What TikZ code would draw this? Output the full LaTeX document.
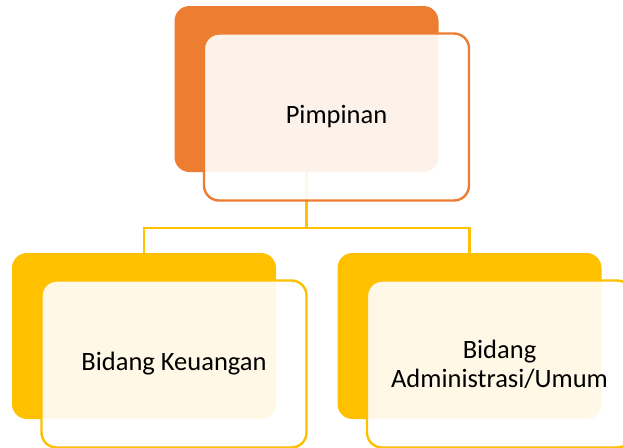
\documentclass[tikz,border=0pt]{standalone}
\usepackage{fontspec}
\setmainfont{Carlito}
\definecolor{borange}{HTML}{ED7D31}
\definecolor{byellow}{HTML}{FFC000}
\begin{document}
\begin{tikzpicture}[x=1pt,y=-1pt,
  backbox/.style={rectangle, rounded corners=15pt, inner sep=0pt, outer sep=0pt,
    minimum width=264pt, minimum height=166pt},
  frontbox/.style={rectangle, rounded corners=15pt, inner sep=0pt, outer sep=0pt,
    minimum width=265pt, minimum height=167pt, line width=2.4pt,
    fill=white, fill opacity=0.9, text opacity=1, align=center,
    font=\fontsize{26.5}{29}\selectfont},
  conn/.style={draw=byellow, line width=2.4pt}]
\useasboundingbox (0,0) rectangle (623,447);
\fill[white] (0,0) rectangle (623,447);
% back boxes
\node[backbox, fill=borange] (pback) at (306.5,89) {};
\node[backbox, fill=byellow] (kback) at (144,336) {};
\node[backbox, fill=byellow] (aback) at (469.5,336) {};
% connectors
\coordinate (hub) at (306.5,228);
\draw[conn] (pback.south) -- (hub);
\draw[conn] (kback.north) -- (kback.north |- hub) -- (aback.north |- hub) -- (aback.north);
% front boxes
\node[frontbox, draw=borange] (pfront) at (336.5,117) {Pimpinan};
\node[frontbox, draw=byellow] (kfront) at (174,364) {Bidang Keuangan};
\node[frontbox, draw=byellow] (afront) at (499.5,364) {Bidang\\Administrasi/Umum};
\end{tikzpicture}
\end{document}
